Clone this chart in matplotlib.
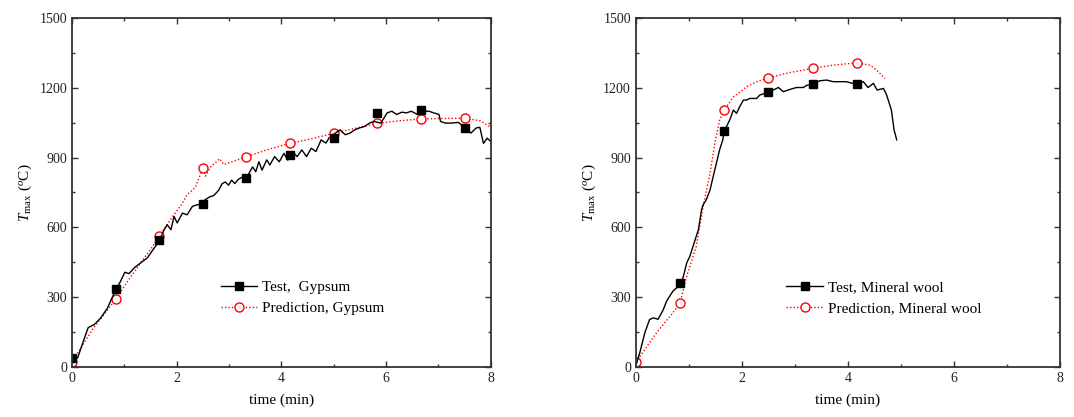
import matplotlib
matplotlib.use('Agg')
import matplotlib.pyplot as plt
from matplotlib.lines import Line2D
from matplotlib.ticker import MultipleLocator

plt.rcParams['font.family'] = ['Liberation Serif', 'DejaVu Serif']
plt.rcParams['mathtext.fontset'] = 'custom'
plt.rcParams['mathtext.rm'] = 'Liberation Serif'
plt.rcParams['mathtext.it'] = 'Liberation Serif:italic'

# Gypsum - test trace (min, degC)
gyp_test_t = [0.0, 0.05, 0.11, 0.23, 0.31, 0.43, 0.55, 0.68, 0.81, 0.833, 0.93, 1.01, 1.09, 1.19,
              1.31, 1.44, 1.57, 1.667, 1.76, 1.82, 1.89, 1.95, 2.01, 2.11, 2.2, 2.3, 2.35, 2.45,
              2.53, 2.62, 2.71, 2.80, 2.87, 2.93, 2.99, 3.05, 3.11, 3.17, 3.26, 3.333, 3.45,
              3.51, 3.57, 3.63, 3.72, 3.78, 3.87, 3.96, 4.05, 4.12, 4.21, 4.30, 4.39, 4.48,
              4.57, 4.66, 4.76, 4.85, 4.91, 5.03, 5.12, 5.22, 5.31, 5.40, 5.49, 5.59, 5.68,
              5.77, 5.9, 6.02, 6.11, 6.20, 6.30, 6.39, 6.48, 6.6, 6.70, 6.82, 6.91, 7.01,
              7.04, 7.13, 7.25, 7.38, 7.5, 7.62, 7.72, 7.79, 7.86, 7.93, 8.0]
gyp_test_T = [40, 30, 40, 119, 169, 183, 211, 254, 319, 330, 369, 407, 401, 426,
              447, 469, 511, 540, 590, 611, 590, 647, 619, 661, 654, 690, 694, 700,
              716, 730, 737, 759, 788, 795, 781, 803, 788, 805, 817, 812, 860,
              839, 882, 846, 890, 868, 904, 882, 918, 889, 926, 904, 933, 904,
              940, 926, 976, 962, 984, 1005, 1019, 998, 1005, 1019, 1027, 1034, 1048,
              1055, 1048, 1092, 1099, 1085, 1095, 1092, 1099, 1085, 1099, 1099, 1092, 1085,
              1055, 1048, 1048, 1051, 1029, 1005, 1027, 1030, 961, 983, 969]
gyp_mark_t = [0.0, 0.833, 1.667, 2.5, 3.333, 4.167, 5.0, 5.833, 6.667, 7.5]
gyp_test_mark = [40, 336, 547, 701, 814, 911, 983, 1090, 1104, 1029]
gyp_pred_mark = [21, 290, 561, 854, 904, 961, 1004, 1047, 1066, 1069]

# Gypsum - prediction trace
gyp_pred_t = [0.0, 0.11, 0.42, 0.833, 1.1, 1.31, 1.5, 1.667, 1.9, 2.1, 2.2, 2.35, 2.5, 2.55,
              2.65, 2.75, 2.82, 2.9, 3.1, 3.333, 3.75, 4.167, 4.6, 5.0, 5.4, 5.833, 6.25,
              6.667, 7.1, 7.5, 7.8, 8.0]
gyp_pred_T = [20, 61, 170, 290, 380, 447, 505, 561, 640, 700, 740, 770, 854, 820,
              860, 880, 895, 870, 885, 904, 935, 961, 982, 1004, 1025, 1047, 1058,
              1066, 1068, 1069, 1058, 1030]

# Mineral wool - test trace
mw_test_t = [0.0, 0.075, 0.17, 0.26, 0.33, 0.42, 0.52, 0.58, 0.70, 0.77, 0.833, 0.89, 0.96,
             1.02, 1.08, 1.18, 1.24, 1.27, 1.33, 1.40, 1.46, 1.52, 1.58, 1.64, 1.667, 1.71,
             1.77, 1.84, 1.9, 1.96, 2.03, 2.09, 2.15, 2.28, 2.34, 2.5, 2.59, 2.69, 2.78,
             2.91, 3.03, 3.16, 3.22, 3.333, 3.47, 3.6, 3.72, 3.85, 3.97, 4.167, 4.29, 4.38,
             4.48, 4.55, 4.67, 4.73, 4.82, 4.87, 4.92]
mw_test_T = [4, 61, 147, 204, 211, 205, 247, 283, 326, 340, 361, 383, 447,
             476, 519, 590, 676, 697, 719, 761, 819, 876, 933, 976, 1014, 1033,
             1061, 1104, 1090, 1119, 1147, 1147, 1154, 1154, 1169, 1180, 1190, 1201, 1183,
             1193, 1201, 1201, 1210, 1214, 1230, 1233, 1226, 1226, 1226, 1214, 1226, 1201,
             1219, 1190, 1197, 1169, 1104, 1019, 976]
mw_mark_t = [0.833, 1.667, 2.5, 3.333, 4.167]
mw_test_mark = [361, 1014, 1180, 1214, 1214]
mw_pred_mark_t = [0.0, 0.833, 1.667, 2.5, 3.333, 4.167]
mw_pred_mark = [20, 273, 1104, 1243, 1283, 1307]

# Mineral wool - prediction trace
mw_pred_t = [0.0, 0.39, 0.7, 0.833, 0.96, 1.14, 1.27, 1.4, 1.49, 1.58, 1.667, 1.84, 2.09,
             2.28, 2.5, 2.9, 3.333, 3.72, 4.167, 4.42, 4.54, 4.70]
mw_pred_T = [20, 147, 233, 273, 390, 519, 690, 833, 961, 1061, 1104, 1161, 1204,
             1226, 1243, 1265, 1283, 1297, 1307, 1297, 1276, 1240]

fig = plt.figure(figsize=(10.74, 4.17), dpi=100)
ax1 = fig.add_axes([0.067, 0.12, 0.390, 0.837])
ax2 = fig.add_axes([0.592, 0.12, 0.395, 0.837])

panels = [
    (ax1, gyp_test_t, gyp_test_T, gyp_mark_t, gyp_test_mark, gyp_pred_t, gyp_pred_T,
     gyp_mark_t, gyp_pred_mark, 'Test,  Gypsum', 'Prediction, Gypsum'),
    (ax2, mw_test_t, mw_test_T, mw_mark_t, mw_test_mark, mw_pred_t, mw_pred_T,
     mw_pred_mark_t, mw_pred_mark, 'Test, Mineral wool', 'Prediction, Mineral wool'),
]

for ax, tt, tT, mt, mT, pt, pT, pmt, pmT, lab1, lab2 in panels:
    ax.plot(pt, pT, color='red', ls=(0, (1, 1.5)), lw=1.0)
    ax.plot(pmt, pmT, ls='none', marker='o', ms=6.5, mfc='white', mec='red', mew=1.0)
    ax.plot(tt, tT, color='black', lw=1.0)
    ax.plot(mt, mT, ls='none', marker='s', ms=5.5, color='black')

    ax.set_xlim(0, 8)
    ax.set_ylim(0, 1500)
    ax.xaxis.set_major_locator(MultipleLocator(2))
    ax.xaxis.set_minor_locator(MultipleLocator(1))
    ax.yaxis.set_major_locator(MultipleLocator(300))
    ax.yaxis.set_minor_locator(MultipleLocator(150))
    ax.tick_params(which='both', direction='in', top=True, right=True, labelsize=10,
                   colors='#333333', labelcolor='#222222')
    ax.tick_params(which='major', length=4.5, width=1.0)
    ax.tick_params(which='minor', length=2.5, width=1.0)
    for s in ax.spines.values():
        s.set_linewidth(1.3)
        s.set_color('#333333')
    ax.set_xlabel('time (min)', fontsize=11, labelpad=6)
    ax.set_ylabel(r'$T_{\rm max}$ ($^{o}$C)', fontsize=11, labelpad=4)

    h1 = Line2D([], [], color='black', lw=1.0, marker='s', ms=5.5)
    h2 = Line2D([], [], color='red', ls=(0, (1, 1.5)), lw=1.0, marker='o', ms=6.5,
                mfc='white', mec='red')
    ax.legend([h1, h2], [lab1, lab2], loc='upper left', bbox_to_anchor=(0.355, 0.247),
              frameon=False, fontsize=11, handlelength=2.4, handletextpad=0.3,
              labelspacing=0.45, borderpad=0, borderaxespad=0)

fig.savefig('out.png', dpi=100)
